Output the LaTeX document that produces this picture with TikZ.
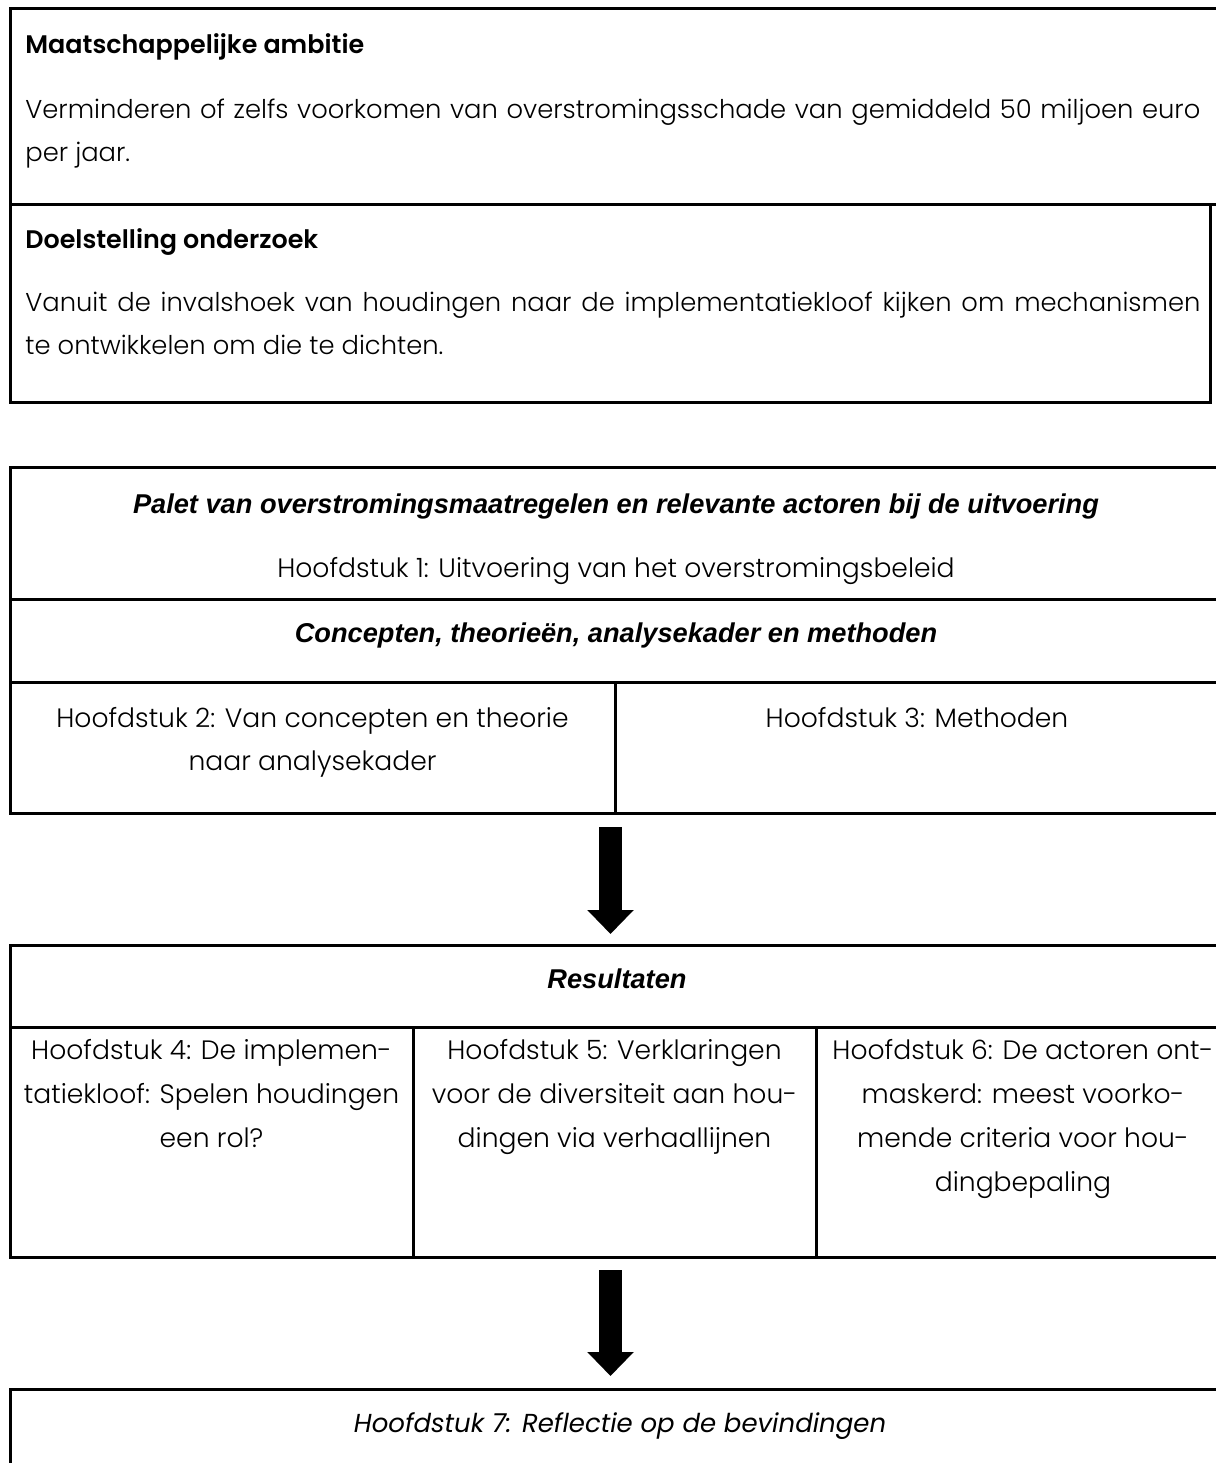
\documentclass[tikz,border=0pt]{standalone}
\usepackage{fontspec}
\setmainfont{Poppins Light}[BoldFont=Poppins SemiBold]
\newfontfamily\kopfont{Liberation Sans}
\newfontfamily\gothicmed{Poppins}
\usetikzlibrary{arrows.meta}

\tikzset{
  kader/.style={line width=1.5pt},
  tekst/.style={anchor=base, inner sep=0pt, font=\fontsize{13.3}{16}\selectfont},
  links/.style={tekst, anchor=base west},
  regel/.style={links, font=\fontsize{12.9}{16}\selectfont},
  vet/.style={links, font=\bfseries\fontsize{12.7}{15}\selectfont},
  kop/.style={tekst, font=\kopfont\bfseries\itshape\fontsize{13.6}{16}\selectfont},
  pijl/.style={line width=11.5pt, -{Triangle[length=12pt, width=22.5pt]}}
}

\begin{document}
\begin{tikzpicture}[x=0.5pt, y=-0.5pt]
\useasboundingbox (0,0) rectangle (1216,1463);

% ambitie en doelstelling
\draw[kader] (10,8) rectangle (1230,204);
\draw[kader] (10,204) rectangle (1210,402);
\node[vet] (ambitie) at (25,53) {Maatschappelijke ambitie};
\node[regel] (ambitie1) at (25,118) {\makebox[587.5pt][s]{Verminderen of zelfs voorkomen van overstromingsschade van gemiddeld 50 miljoen euro}};
\node[regel] (ambitie2) at (25,161) {per jaar.};
\node[vet] (doel) at (25,248) {Doelstelling onderzoek};
\node[regel] (doel1) at (25,311) {\makebox[587.5pt][s]{Vanuit de invalshoek van houdingen naar de implementatiekloof kijken om mechanismen}};
\node[regel] (doel2) at (25,354) {te ontwikkelen om die te dichten.};

% kader en methoden
\draw[kader] (10,467) rectangle (1230,813);
\draw[kader] (10,599) -- (1230,599);
\draw[kader] (10,682) -- (1230,682);
\draw[kader] (615,682) -- (615,813);
\node[kop] (palet) at (616,513) {Palet van overstromingsmaatregelen en relevante actoren bij de uitvoering};
\node[tekst] (hfd1) at (616,577) {Hoofdstuk 1: Uitvoering van het overstromingsbeleid};
\node[kop] (concepten) at (616,642) {Concepten, theorieën, analysekader en methoden};
\foreach \t [count=\i] in {Hoofdstuk 2: Van concepten en theorie, naar analysekader}
  \node[tekst] (hfd2-\i) at (312.5,{727+43.5*(\i-1)}) {\t};
\node[tekst] (hfd3) at (917,727) {Hoofdstuk 3: Methoden};

\coordinate (pijl1a) at (610.5,827);
\coordinate (pijl1b) at (610.5,934);
\draw[pijl] (pijl1a) -- (pijl1b);

% resultaten
\draw[kader] (10,945) rectangle (1230,1257);
\draw[kader] (10,1027) -- (1230,1027);
\draw[kader] (413,1027) -- (413,1257);
\draw[kader] (816,1027) -- (816,1257);
\node[kop] (resultaten) at (617,988) {Resultaten};
\foreach \t [count=\i] in {Hoofdstuk 4: De implemen-, tatiekloof: Spelen houdingen, een rol?}
  \node[tekst] (hfd4-\i) at (211.5,{1059+44*(\i-1)}) {\t};
\foreach \t [count=\i] in {Hoofdstuk 5: Verklaringen, voor de diversiteit aan hou-, dingen via verhaallijnen}
  \node[tekst] (hfd5-\i) at (614.5,{1059+44*(\i-1)}) {\t};
\foreach \t [count=\i] in {Hoofdstuk 6: De actoren ont-, maskerd: meest voorko-, mende criteria voor hou-, dingbepaling}
  \node[tekst] (hfd6-\i) at (1023,{1059+44*(\i-1)}) {\t};

\coordinate (pijl2a) at (610.5,1270);
\coordinate (pijl2b) at (610.5,1376);
\draw[pijl] (pijl2a) -- (pijl2b);

% reflectie
\draw[kader] (10,1389) rectangle (1230,1500);
\node[tekst, font=\gothicmed\itshape\fontsize{13}{16}\selectfont] (hfd7) at (620,1432) {Hoofdstuk 7: Reflectie op de bevindingen};
\end{tikzpicture}
\end{document}
